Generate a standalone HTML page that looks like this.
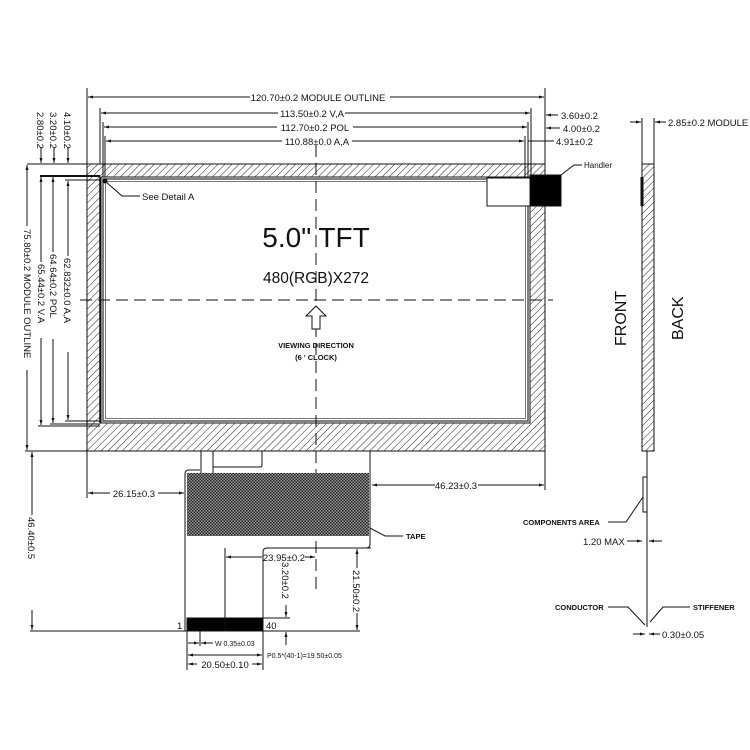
<!DOCTYPE html>
<html><head><meta charset="utf-8"><style>
html,body{margin:0;padding:0;background:#fff;}
svg{display:block;}
text{font-family:"Liberation Sans",Arial,sans-serif;fill:#111;}
</style></head><body>
<svg width="750" height="750" viewBox="0 0 750 750" xmlns="http://www.w3.org/2000/svg">
<defs>
<pattern id="h" width="5" height="5" patternUnits="userSpaceOnUse" patternTransform="rotate(45)">
<rect width="5" height="5" fill="#fff"/><line x1="0" y1="0" x2="0" y2="5" stroke="#222" stroke-width="1"/>
</pattern>
<pattern id="x" width="3" height="3" patternUnits="userSpaceOnUse">
<rect width="3" height="3" fill="#999"/><rect width="1.5" height="1.5" fill="#222"/><rect x="1.5" y="1.5" width="1.5" height="1.5" fill="#222"/>
</pattern>
<marker id="a" viewBox="0 0 10 10" refX="10" refY="5" markerWidth="7" markerHeight="5" orient="auto-start-reverse"><path d="M0,2 L10,5 L0,8z" fill="#111"/></marker>
</defs>
<g stroke="#111" stroke-width="1" fill="none">
<path d="M87,164 H545 V451 H87z M101,177 V423 H530 V177z" fill="url(#h)" fill-rule="evenodd"/>
<rect x="103" y="179" width="425" height="242" stroke="#555" stroke-width="1.5"/>
<rect x="105.5" y="181.5" width="420" height="237" stroke="#777" stroke-width="1"/>
<line x1="100" y1="177" x2="100" y2="423" stroke-width="1.5"/>
<rect x="487" y="178" width="43" height="28" fill="#fff"/>
<rect x="530" y="175" width="31" height="31" fill="#000"/>
<polyline points="561,175 574,165 582,165"/>
<line x1="316" y1="145" x2="316" y2="595" stroke-dasharray="12,6"/>
<line x1="80" y1="300" x2="553" y2="300" stroke-dasharray="12,6"/>
<path d="M316,306 L326,316 L320,316 L320,329 L312,329 L312,316 L306,316z" fill="#fff"/>
<line x1="87" y1="88" x2="87" y2="164"/><line x1="545" y1="88" x2="545" y2="164"/>
<line x1="100" y1="108" x2="100" y2="164"/><line x1="531" y1="108" x2="531" y2="177"/>
<line x1="103" y1="122" x2="103" y2="177"/><line x1="528" y1="122" x2="528" y2="177"/>
<line x1="105" y1="136" x2="105" y2="177"/><line x1="525" y1="136" x2="525" y2="177"/>
<line x1="88" y1="97" x2="250" y2="97" marker-start="url(#a)"/><line x1="390" y1="97" x2="544" y2="97" marker-end="url(#a)"/>
<line x1="101" y1="113" x2="278" y2="113" marker-start="url(#a)"/><line x1="345" y1="113" x2="530" y2="113" marker-end="url(#a)"/>
<line x1="104" y1="127" x2="277" y2="127" marker-start="url(#a)"/><line x1="353" y1="127" x2="527" y2="127" marker-end="url(#a)"/>
<line x1="106" y1="141" x2="282" y2="141" marker-start="url(#a)"/><line x1="352" y1="141" x2="524" y2="141" marker-end="url(#a)"/>
<line x1="558" y1="115" x2="546" y2="115" marker-end="url(#a)"/>
<line x1="560" y1="128" x2="546" y2="128" marker-end="url(#a)"/>
<line x1="528" y1="141" x2="554" y2="141"/>
<line x1="27" y1="164" x2="87" y2="164"/>
<line x1="40" y1="176" x2="100" y2="176" stroke-width="2"/>
<line x1="65" y1="180" x2="100" y2="180"/>
<line x1="25" y1="451" x2="87" y2="451"/>
<line x1="38" y1="426" x2="100" y2="426"/>
<line x1="50" y1="424" x2="100" y2="424"/>
<line x1="65" y1="421" x2="100" y2="421"/>
<line x1="68" y1="147" x2="68" y2="163" marker-end="url(#a)"/>
<line x1="54" y1="147" x2="54" y2="163" marker-end="url(#a)"/>
<line x1="41" y1="147" x2="41" y2="163" marker-end="url(#a)"/>
<line x1="27" y1="165" x2="27" y2="226" marker-start="url(#a)"/><line x1="27" y1="370" x2="27" y2="450" marker-end="url(#a)"/>
<line x1="41" y1="177" x2="41" y2="262" marker-start="url(#a)"/><line x1="41" y1="338" x2="41" y2="425" marker-end="url(#a)"/>
<line x1="53" y1="177" x2="53" y2="252" marker-start="url(#a)"/><line x1="53" y1="339" x2="53" y2="423" marker-end="url(#a)"/>
<line x1="68" y1="181" x2="68" y2="256" marker-start="url(#a)"/><line x1="68" y1="352" x2="68" y2="420" marker-end="url(#a)"/>
<circle cx="105" cy="181" r="2" fill="#111"/>
<polyline points="105,181 122,196 140,196"/>
<line x1="201" y1="451" x2="201" y2="505"/><line x1="213" y1="451" x2="213" y2="505"/>
<rect x="201" y="498" width="12" height="10"/>
<path d="M262,451 V465 Q262,467 260,467 H213"/>
<path d="M200,470 H189 Q185,470 185,474 V631"/>
<path d="M370,451 V544 Q370,548 366,548 H267 Q263,548 263,552 V631"/>
<rect x="187" y="473" width="182" height="63" fill="url(#x)" stroke="none"/>
<rect x="187" y="618" width="76" height="13" fill="#000"/>
<line x1="30" y1="631" x2="360" y2="631"/>
<line x1="32" y1="452" x2="32" y2="515" marker-start="url(#a)"/><line x1="32" y1="610" x2="32" y2="630" marker-end="url(#a)"/>
<line x1="88" y1="493" x2="110" y2="493" marker-start="url(#a)"/><line x1="158" y1="493" x2="184" y2="493" marker-end="url(#a)"/>
<line x1="372" y1="485" x2="435" y2="485" marker-start="url(#a)"/><line x1="478" y1="485" x2="544" y2="485" marker-end="url(#a)"/>
<line x1="87" y1="451" x2="87" y2="498"/><line x1="545" y1="451" x2="545" y2="490"/>
<line x1="225" y1="548" x2="225" y2="631"/>
<line x1="226" y1="557" x2="262" y2="557" marker-start="url(#a)"/><line x1="305" y1="557" x2="315" y2="557" marker-end="url(#a)"/>
<line x1="286" y1="605" x2="286" y2="617" marker-end="url(#a)"/>
<line x1="286" y1="645" x2="286" y2="632" marker-end="url(#a)"/>
<line x1="263" y1="618" x2="290" y2="618"/>
<line x1="357" y1="549" x2="357" y2="568" marker-start="url(#a)"/><line x1="357" y1="613" x2="357" y2="630" marker-end="url(#a)"/>
<line x1="371" y1="548" x2="361" y2="548"/>
<line x1="187" y1="631" x2="187" y2="670"/><line x1="263" y1="631" x2="263" y2="670"/>
<line x1="200" y1="631" x2="200" y2="646"/>
<line x1="188" y1="643" x2="199" y2="643" marker-end="url(#a)"/><line x1="213" y1="643" x2="201" y2="643" marker-end="url(#a)"/>
<line x1="188" y1="655" x2="262" y2="655" marker-start="url(#a)" marker-end="url(#a)"/>
<line x1="188" y1="664" x2="197" y2="664" marker-start="url(#a)"/><line x1="252" y1="664" x2="262" y2="664" marker-end="url(#a)"/>
<polyline points="370,528 385,536 403,536"/>
<rect x="642" y="164" width="12" height="287" fill="url(#h)"/>
<line x1="642" y1="177" x2="642" y2="206" stroke-width="3"/>
<line x1="642" y1="118" x2="642" y2="164"/><line x1="654" y1="118" x2="654" y2="164"/>
<line x1="630" y1="122" x2="641" y2="122" marker-end="url(#a)"/><line x1="666" y1="122" x2="655" y2="122" marker-end="url(#a)"/>
<line x1="647" y1="451" x2="647" y2="627"/>
<rect x="643" y="477" width="4" height="35"/>
<polyline points="643,497 626,522 608,522"/>
<line x1="627" y1="541" x2="642" y2="541" marker-end="url(#a)"/><line x1="662" y1="541" x2="649" y2="541" marker-end="url(#a)"/>
<polyline points="608,607 628,607 645,625"/>
<polyline points="690,607 663,607 650,622"/>
<line x1="633" y1="634" x2="645" y2="634" marker-end="url(#a)"/><line x1="660" y1="634" x2="649" y2="634" marker-end="url(#a)"/>
</g>
<g font-size="9.5">
<text x="318" y="101" text-anchor="middle">120.70±0.2 MODULE OUTLINE</text>
<text x="312" y="117" text-anchor="middle">113.50±0.2 V,A</text>
<text x="315" y="131" text-anchor="middle">112.70±0.2 POL</text>
<text x="317" y="145" text-anchor="middle">110.88±0.0 A,A</text>
<text x="561" y="119">3.60±0.2</text>
<text x="563" y="132">4.00±0.2</text>
<text x="556" y="145">4.91±0.2</text>
<text x="668" y="126">2.85±0.2 MODULE</text>
<text x="142" y="200">See Detail A</text>
<text x="134" y="497" text-anchor="middle">26.15±0.3</text>
<text x="456" y="489" text-anchor="middle">46.23±0.3</text>
<text x="284" y="561" text-anchor="middle">23.95±0.2</text>
<text x="225" y="668" text-anchor="middle">20.50±0.10</text>
<text x="177" y="629">1</text>
<text x="266" y="629">40</text>
<text x="583" y="545">1.20 MAX</text>
<text x="662" y="638">0.30±0.05</text>
<text transform="translate(64,112) rotate(90)">4.10±0.2</text>
<text transform="translate(50,112) rotate(90)">3.20±0.2</text>
<text transform="translate(37,112) rotate(90)">2.80±0.2</text>
<text transform="translate(24,229) rotate(90)">75.80±0.2 MODULE OUTLINE</text>
<text transform="translate(38,264) rotate(90)">65.44±0.2 V.A</text>
<text transform="translate(50,254) rotate(90)">64.64±0.2 POL</text>
<text transform="translate(64,258) rotate(90)">62.832±0.0 A,A</text>
<text transform="translate(28,517) rotate(90)">46.40±0.5</text>
<text transform="translate(282,562) rotate(90)">3.20±0.2</text>
<text transform="translate(353,570) rotate(90)">21.50±0.2</text>
</g>
<g font-size="7.5" font-weight="bold">
<text x="316" y="348" text-anchor="middle">VIEWING DIRECTION</text>
<text x="316" y="360" text-anchor="middle">(6 ' CLOCK)</text>
<text x="406" y="539">TAPE</text>
<text x="523" y="525">COMPONENTS AREA</text>
<text x="555" y="610">CONDUCTOR</text>
<text x="693" y="610">STIFFENER</text>
<text x="584" y="168" font-weight="normal" font-size="8">Handler</text>
</g>
<text x="215" y="646" font-size="7">W 0.35±0.03</text>
<text x="267" y="658" font-size="7">P0.5*(40-1)=19.50±0.05</text>
<text x="316" y="247" font-size="28" text-anchor="middle">5.0" TFT</text>
<text x="316" y="283" font-size="15.5" text-anchor="middle">480(RGB)X272</text>
<text transform="translate(626,346) rotate(-90)" font-size="16">FRONT</text>
<text transform="translate(683,340) rotate(-90)" font-size="16">BACK</text>
</svg>
</body></html>
